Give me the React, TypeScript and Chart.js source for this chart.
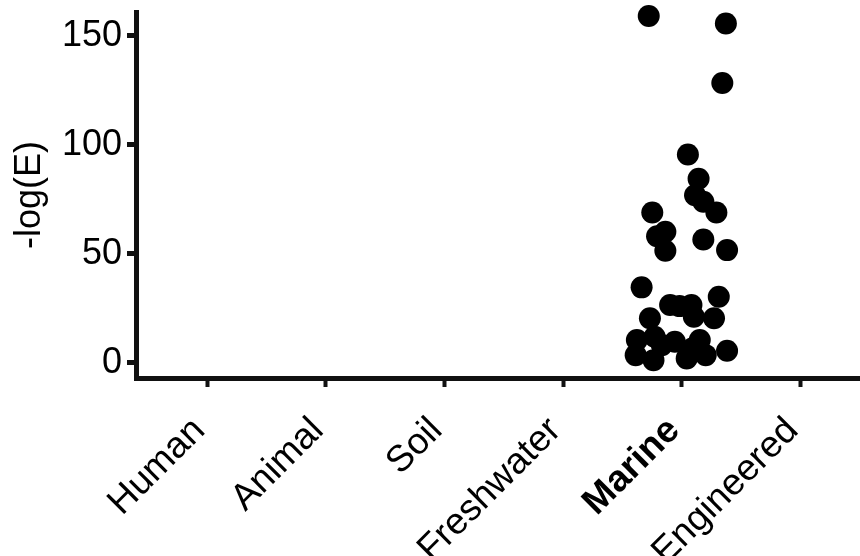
import React, { useEffect, useRef } from "react";
import { Chart, registerables } from "chart.js";

Chart.register(...registerables);

const categories = ["Human", "Animal", "Soil", "Freshwater", "Marine", "Engineered"];
const highlighted = "Marine";
const yTicks = [0, 50, 100, 150];

// jittered x position (category index 1..6) and -log(E) value for each hit
const jitterX = [
  4.72, 5.37, 5.34, 5.05, 5.14, 5.11, 5.18, 5.29, 4.75, 4.86, 4.79,
  4.86, 5.18, 5.38, 4.66, 5.31, 4.90, 5.08, 4.73, 5.10, 5.27, 4.62,
  4.77, 4.94, 5.15, 4.61, 4.76, 5.04, 5.20, 5.38, 4.83, 5.09, 4.98,
];
const logE = [
  159.2, 155.7, 128.4, 95.6, 84.5, 76.9, 73.9, 69.0, 69.0, 60.1, 58.1,
  51.4, 56.6, 51.7, 34.6, 30.3, 26.5, 26.5, 20.4, 21.1, 20.4, 10.4,
  11.9, 9.6, 10.4, 3.5, 1.2, 2.0, 3.5, 5.5, 8.1, 6.7, 26.0,
];

const FONT = "'Liberation Sans', Arial, Helvetica, sans-serif";
const INK = "#111111";

export default function App() {
  const ref = useRef<HTMLCanvasElement | null>(null);

  useEffect(() => {
    if (!ref.current) return;
    const points = jitterX.map((x, i) => ({ x, y: logE[i] }));
    const chart = new Chart(ref.current, {
      type: "scatter",
      data: {
        datasets: [
          {
            data: points,
            backgroundColor: "#000000",
            borderWidth: 0,
            pointRadius: 11,
            pointHoverRadius: 11,
            clip: 14,
          },
        ],
      },
      options: {
        animation: false,
        responsive: true,
        maintainAspectRatio: false,
        layout: { autoPadding: false, padding: { top: 12, right: 0, left: 0, bottom: 0 } },
        plugins: { legend: { display: false }, tooltip: { enabled: false } },
        scales: {
          x: {
            type: "linear",
            min: 0.4,
            max: 6.5,
            afterBuildTicks: (scale: any) => {
              scale.ticks = categories.map((_, i) => ({ value: i + 1 }));
            },
            afterFit: (scale: any) => {
              scale.height = 178;
              scale.paddingLeft = 0;
              scale.paddingRight = 0;
            },
            border: { display: true, color: INK, width: 5 },
            grid: {
              display: true,
              drawOnChartArea: false,
              drawTicks: true,
              tickLength: 9,
              tickWidth: 4,
              tickColor: INK,
            },
            ticks: {
              autoSkip: false,
              minRotation: 45,
              maxRotation: 45,
              padding: 22,
              labelOffset: -8,
              color: "#000000",
              callback: (v: any) => categories[Math.round(Number(v)) - 1] ?? "",
              font: (ctx: any) => ({
                family: FONT,
                size: 37,
                weight:
                  ctx.tick && categories[Math.round(ctx.tick.value) - 1] === highlighted
                    ? "bold"
                    : "normal",
              }),
            },
          },
          y: {
            type: "linear",
            min: -7,
            max: 161,
            afterBuildTicks: (scale: any) => {
              scale.ticks = yTicks.map((v) => ({ value: v }));
            },
            afterFit: (scale: any) => {
              scale.width = 136;
              scale.paddingTop = 0;
              scale.paddingBottom = 0;
            },
            border: { display: true, color: INK, width: 5 },
            grid: {
              display: true,
              drawOnChartArea: false,
              drawTicks: true,
              tickLength: 9,
              tickWidth: 5,
              tickColor: INK,
            },
            ticks: {
              padding: 5,
              color: "#000000",
              font: { family: FONT, size: 36 },
            },
            title: {
              display: true,
              text: "-log(E)",
              color: "#000000",
              font: { family: FONT, size: 36 },
              padding: { top: 8, bottom: 0 },
            },
          },
        },
      },
    });
    return () => chart.destroy();
  }, []);

  return (
    <div style={{ position: "fixed", left: 0, top: 0, width: 860, height: 556, background: "#ffffff" }}>
      <canvas ref={ref} />
    </div>
  );
}
